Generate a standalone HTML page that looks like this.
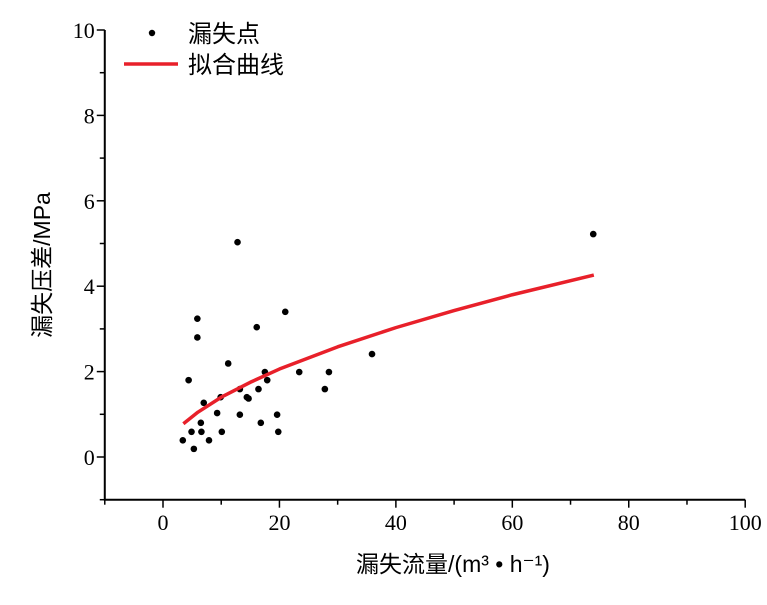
<!DOCTYPE html>
<html><head><meta charset="utf-8"><style>
body{margin:0;background:#fff;}
svg{display:block;font-family:"Liberation Serif","Noto Serif CJK SC",serif;}
</style></head><body>
<svg id="chart" width="767" height="605" viewBox="0 0 767 605" xmlns="http://www.w3.org/2000/svg">
<g id="axes"></g><g id="marks"></g>
<g>
<circle cx="152" cy="33" r="3.2" fill="#000"/>
<text x="188" y="42" font-size="24" font-family="Liberation Sans,Noto Sans CJK SC,sans-serif">漏失点</text>
<line x1="124" y1="64" x2="178" y2="64" stroke="#e8202a" stroke-width="3.5"/>
<text x="188" y="73" font-size="24" font-family="Liberation Sans,Noto Sans CJK SC,sans-serif">拟合曲线</text>
</g>
<text transform="translate(50,265) rotate(-90)" text-anchor="middle" font-size="23" font-family="Liberation Sans,Noto Sans CJK SC,sans-serif">漏失压差/MPa</text>
<text x="453" y="572" text-anchor="middle" font-size="23" font-family="Liberation Sans,Noto Sans CJK SC,sans-serif">漏失流量/(m³ • h⁻¹)</text>
</svg>
<script>
const ptX=[12.8,21.0,5.9,5.9,16.1,11.2,4.4,17.5,17.9,23.4,28.5,27.8,16.4,13.2,14.4,14.7,9.9,7.0,9.3,13.2,19.6,6.5,16.8,4.9,6.6,10.1,19.8,3.4,7.9,5.3,35.9,73.9];
const ptY=[5.03,3.40,3.24,2.80,3.04,2.19,1.80,1.99,1.80,1.99,1.99,1.59,1.59,1.59,1.40,1.37,1.40,1.27,1.03,0.99,0.99,0.80,0.80,0.59,0.59,0.59,0.59,0.39,0.39,0.19,2.41,5.22];
const fitX=[3.5,6,10,15,20,30,40,50,60,74];
const fitY=[0.78,1.05,1.40,1.75,2.06,2.58,3.03,3.43,3.80,4.26];
const xTicks=[0,20,40,60,80,100];
const yTicks=[0,2,4,6,8,10];
const NS="http://www.w3.org/2000/svg";
const X=v=>163+(v)*5.822;
const Y=v=>457-v*42.7;
const axes=document.getElementById('axes'),marks=document.getElementById('marks');
function mk(tag,attrs,parent){const e=document.createElementNS(NS,tag);for(const k in attrs)e.setAttribute(k,attrs[k]);parent.appendChild(e);return e;}
let e=mk('path',{d:`M${X(-10)} ${Y(10)} V${Y(-1)} H${X(100)}`,fill:'none',stroke:'#000','stroke-width':2},axes);


for(let v=-10;v<=100;v+=10){const major=v%20===0;
 e=mk('line',{x1:X(v),x2:X(v),y1:Y(-1),y2:Y(-1)+(major?8:5),stroke:'#000','stroke-width':1.5},axes);
 
 }
xTicks.forEach(v=>{e=mk('text',{x:X(v),y:530,'text-anchor':'middle','font-size':22},axes);e.textContent=v;
 
 });
for(let v=-1;v<=10;v+=1){const major=v%2===0;
 e=mk('line',{x1:X(-10),x2:X(-10)-(major?8:5),y1:Y(v),y2:Y(v),stroke:'#000','stroke-width':1.5},axes);
 
 }
yTicks.forEach(v=>{e=mk('text',{x:X(-10)-10,y:Y(v)+8,'text-anchor':'end','font-size':22},axes);e.textContent=v;
 
 });
ptX.forEach((x,i)=>{e=mk('circle',{cx:X(x),cy:Y(ptY[i]),r:3.3,fill:'#000'},marks);
 
 });
e=mk('polyline',{points:fitX.map((x,i)=>X(x)+','+Y(fitY[i])).join(' '),fill:'none',stroke:'#e8202a','stroke-width':3.5,'stroke-linejoin':'round'},marks);


</script>
</body></html>
